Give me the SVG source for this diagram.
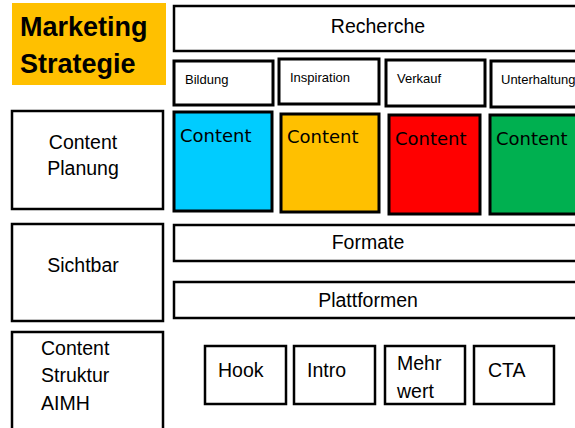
<svg xmlns="http://www.w3.org/2000/svg" width="575" height="428" viewBox="0 0 575 428">
<style>
.b{fill:#fff;stroke:#000;stroke-width:2.5}
.s{fill:#fff;stroke:#000;stroke-width:3}
.t{font-family:"Liberation Sans",Arial,sans-serif;font-size:19.5px;fill:#000}
.sm{font-family:"Liberation Sans",Arial,sans-serif;font-size:13px;fill:#000}
.c{font-family:"DejaVu Sans",sans-serif;font-size:18px;fill:#000}
.m{text-anchor:middle}
</style>
<rect width="575" height="428" fill="#fff"/>
<g id="marketing">
<rect x="12" y="3" width="154" height="82" fill="#FFC000"/>
<text x="20" y="36" font-family="Liberation Sans,Arial,sans-serif" font-weight="bold" font-size="27">Marketing</text>
<text x="20" y="73" font-family="Liberation Sans,Arial,sans-serif" font-weight="bold" font-size="27">Strategie</text>
</g>
<g id="recherche">
<rect class="b" x="174" y="6" width="410" height="45"/>
<text class="t m" x="378" y="33">Recherche</text>
</g>
<g id="bildung"><rect class="s" x="174" y="61" width="99" height="44"/><text class="sm" x="185" y="84">Bildung</text></g>
<g id="inspiration"><rect class="s" x="279" y="59" width="100" height="45"/><text class="sm" x="290" y="82">Inspiration</text></g>
<g id="verkauf"><rect class="s" x="386" y="60" width="99" height="46"/><text class="sm" x="397" y="83">Verkauf</text></g>
<g id="unterhaltung"><rect class="s" x="491" y="61" width="95" height="46"/><text class="sm" x="501" y="84">Unterhaltung</text></g>
<g id="content-planung">
<rect class="b" x="12" y="111" width="151" height="98"/>
<text class="t m" x="83" y="149">Content</text>
<text class="t m" x="83" y="175">Planung</text>
</g>
<g id="content-blue"><rect class="s" x="174" y="112" width="98" height="99" fill="#00CCFF" style="fill:#00CCFF"/><text class="c" x="180" y="142">Content</text></g>
<g id="content-orange"><rect class="s" x="281" y="114" width="98" height="98" style="fill:#FFC000"/><text class="c" x="287" y="143">Content</text></g>
<g id="content-red"><rect class="s" x="389" y="115" width="91" height="99" style="fill:#FF0000"/><text class="c" x="395" y="145">Content</text></g>
<g id="content-green"><rect class="s" x="490" y="115" width="96" height="99" style="fill:#00B050"/><text class="c" x="496" y="145">Content</text></g>
<g id="sichtbar">
<rect class="b" x="12" y="224" width="151" height="97"/>
<text class="t m" x="83" y="272">Sichtbar</text>
</g>
<g id="formate"><rect class="b" x="174" y="225" width="410" height="36"/><text class="t m" x="368" y="249">Formate</text></g>
<g id="plattformen"><rect class="b" x="174" y="282" width="410" height="36"/><text class="t m" x="368" y="307">Plattformen</text></g>
<g id="content-struktur">
<rect class="b" x="12" y="332" width="151" height="100"/>
<text class="t" x="41" y="355">Content</text>
<text class="t" x="41" y="382">Struktur</text>
<text class="t" x="41" y="410">AIMH</text>
</g>
<g id="hook"><rect class="b" x="205" y="346" width="81" height="58"/><text class="t" x="218" y="377">Hook</text></g>
<g id="intro"><rect class="b" x="294" y="346" width="81" height="58"/><text class="t" x="307" y="377">Intro</text></g>
<g id="mehrwert"><rect class="b" x="385" y="346" width="80" height="58"/><text class="t" x="397" y="370">Mehr</text><text class="t" x="397" y="398">wert</text></g>
<g id="cta"><rect class="b" x="474" y="346" width="80" height="58"/><text class="t" x="488" y="377">CTA</text></g>
<g id="connectors"></g>
</svg>
